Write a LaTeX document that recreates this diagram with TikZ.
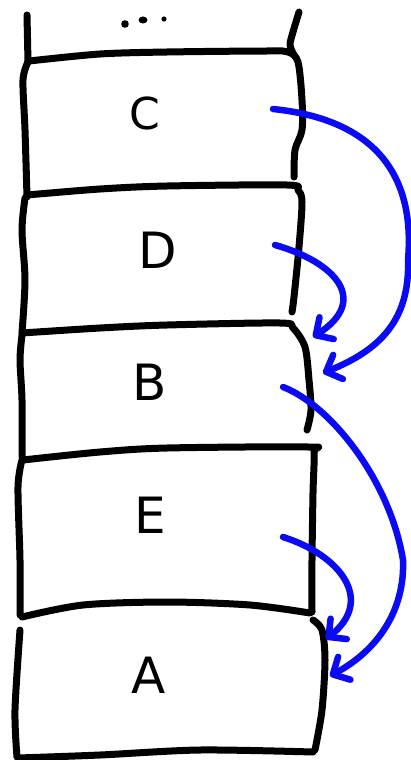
\documentclass[tikz,border=0pt]{standalone}
\usepackage{fontspec}
\setmainfont{DejaVu Sans}
\usetikzlibrary{arrows.meta}
\definecolor{pen}{RGB}{10,10,245}
\tikzset{
  ink/.style={line width=7pt, line cap=round, line join=round, black},
  jump/.style={line width=6.5pt, line cap=round, line join=round, pen,
    -{Straight Barb[length=13pt,width=26pt,round]}},
  lbl/.style={font=\fontsize{50}{50}\selectfont, inner sep=0pt}
}
\begin{document}
\begin{tikzpicture}[x=1pt,y=-1pt]
\useasboundingbox (0,0) rectangle (410,760);
% top of stack
\draw[ink] (27,15) -- (28,62);
\draw[ink] plot[smooth] coordinates {(299,12) (293,32) (290,45) (294,55)};
\fill (125,24) circle (3.8);
\fill (143,20) ellipse (4.5 and 3.5);
\fill (164,19) circle (2.6);
% box C
\draw[ink] plot[smooth] coordinates {(29,61) (100,54) (167,52) (267,51) (288,52) (298,62) (302,100) (302,130) (295,150) (294,177)};
\draw[ink] plot[smooth] coordinates {(28,62) (23,80) (25,130) (27,197)};
% C bottom / D top
\draw[ink] plot[smooth] coordinates {(27,195) (100,189) (167,186) (287,185) (298,190) (302,202) (299,247) (294,297) (292,312)};
\draw[ink] plot[smooth] coordinates {(25,198) (22,230) (25,280) (22,333)};
% B top
\draw[ink] plot[smooth] coordinates {(22,333) (100,328) (167,325) (280,323) (293,328) (305,347) (309,380) (311,410) (307,430)};
\draw[ink] plot[smooth] coordinates {(22,335) (20,360) (22,400) (22,457)};
% E top
\draw[ink] plot[smooth] coordinates {(23,460) (100,452) (167,448) (308,447) (314,452) (313,493) (312,560) (312,612)};
\draw[ink] plot[smooth] coordinates {(22,460) (18,487) (20,560) (20,615)};
% E bottom
\draw[ink] plot[smooth] coordinates {(22,617) (83,605) (167,602) (250,605) (310,613)};
% box A
\draw[ink] plot[smooth] coordinates {(313,620) (322,630) (325,660) (322,710) (315,750)};
\draw[ink] plot[smooth] coordinates {(20,630) (15,710) (17,757)};
\draw[ink] plot[smooth] coordinates {(18,758) (100,755) (200,750) (313,752)};
% labels
\node[lbl, font=\fontsize{44}{44}\selectfont] (c) at (145,113) {C};
\node[lbl] (d) at (158,250) {D};
\node[lbl] (b) at (150,382) {B};
\node[lbl] (e) at (150,515) {E};
\node[lbl] (a) at (149,675) {A};
% arrow ends
\coordinate (cs) at (273,109);
\coordinate (ds) at (275,245);
\coordinate (bs) at (283,387);
\coordinate (es) at (283,537);
\coordinate (bin1) at (313,337);
\coordinate (bin2) at (323,373);
\coordinate (ain1) at (326,639);
\coordinate (ain2) at (330,676);
% arrows
\draw[jump] (cs) .. controls (380,120) and (415,180) .. (408,260) .. controls (410,320) and (380,350) .. (bin2);
\draw[jump] (ds) .. controls (335,262) and (370,300) .. (bin1);
\draw[jump] (bs) .. controls (330,405) and (390,480) .. (403,560) .. controls (405,610) and (378,650) .. (ain2);
\draw[jump] (es) .. controls (340,555) and (375,600) .. (ain1);
\end{tikzpicture}
\end{document}
